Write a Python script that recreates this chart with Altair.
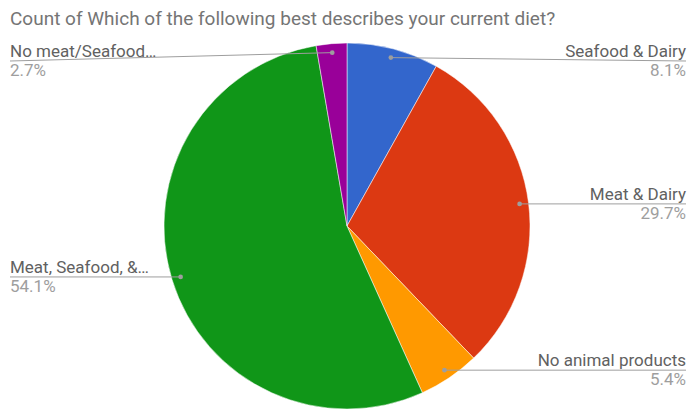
import altair as alt
import pandas as pd

TITLE = "Count of Which of the following best describes your current diet?"
categories = ["Seafood & Dairy", "Meat & Dairy", "No animal products",
              "Meat, Seafood, &…", "No meat/Seafood…"]
counts = [3, 11, 2, 20, 1]
colors = ["#3366cc", "#dc3912", "#ff9900", "#109618", "#990099"]

df = pd.DataFrame({"label": categories, "count": counts,
                   "idx": list(range(len(categories)))})

CX, CY, R, RD = 347, 226, 183, 174
FONT = "Roboto"

base = alt.Chart(df).transform_joinaggregate(
    total="sum(count)"
).transform_window(
    cum="sum(count)", sort=[alt.SortField("idx")], frame=[None, 0]
).transform_calculate(
    mid=f"2*PI*(datum.cum - datum.count/2)/datum.total",
    pct="format(datum.count/datum.total, '.1%')",
).transform_calculate(
    dx=f"{CX} + {RD}*sin(datum.mid)",
    dy=f"{CY} - {RD}*cos(datum.mid)",
    side="datum.mid < PI ? 'right' : 'left'",
).transform_calculate(
    ly="max(datum.dy, 61)",
    ex="datum.side == 'right' ? 686 : 10",
)

pie = alt.Chart(df).mark_arc(outerRadius=R, stroke="white", strokeWidth=0.5).encode(
    theta=alt.Theta("count:Q", stack=True),
    color=alt.Color("label:N", scale=alt.Scale(domain=categories, range=colors), legend=None),
    order=alt.Order("idx:Q"),
    x=alt.value(CX), y=alt.value(CY),
)

lines = base.mark_rule(color="#9e9e9e", strokeWidth=1).encode(
    x=alt.X("dx:Q", scale=None), y=alt.Y("dy:Q", scale=None),
    x2="ex:Q", y2="ly:Q",
)

dots = base.mark_circle(color="#9e9e9e", size=22, opacity=1).encode(
    x=alt.X("dx:Q", scale=None), y=alt.Y("dy:Q", scale=None),
)

def labels(side, align):
    b = base.transform_filter(f"datum.side == '{side}'")
    name = b.mark_text(align=align, baseline="alphabetic", dy=-4, font=FONT,
                       fontSize=17, color="#616161").encode(
        x=alt.X("ex:Q", scale=None), y=alt.Y("ly:Q", scale=None), text="label:N")
    pc = b.mark_text(align=align, baseline="alphabetic", dy=15, font=FONT,
                     fontSize=17, color="#9e9e9e").encode(
        x=alt.X("ex:Q", scale=None), y=alt.Y("ly:Q", scale=None), text="pct:N")
    return name + pc

title = alt.Chart(pd.DataFrame({"t": [TITLE]})).mark_text(
    align="left", baseline="alphabetic", font=FONT, fontSize=19, color="#757575"
).encode(x=alt.value(10), y=alt.value(25), text="t:N")

chart = alt.layer(pie, lines, dots, labels("right", "right"), labels("left", "left"), title).properties(
    width=688, height=409, padding=0, autosize="none", background="white"
).configure_view(stroke=None)

chart.save("out.html", embed_options={"renderer": "svg", "actions": False})
